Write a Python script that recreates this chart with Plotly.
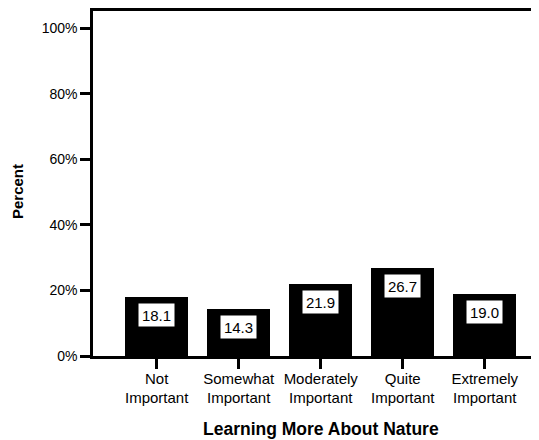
import plotly.graph_objects as go

categories = ["Not<br>Important", "Somewhat<br>Important", "Moderately<br>Important",
              "Quite<br>Important", "Extremely<br>Important"]
values = [18.1, 14.3, 21.9, 26.7, 19.0]
y_ticks = [0, 20, 40, 60, 80, 100]
y_tick_labels = ["0%", "20%", "40%", "60%", "80%", "100%"]
x_title = "Learning More About Nature"
y_title = "Percent"

xpos = list(range(len(categories)))
FONT = "Liberation Sans, Arial, sans-serif"

fig = go.Figure()
fig.add_trace(go.Bar(x=xpos, y=values, width=0.77,
                     marker=dict(color="black", line=dict(width=0)),
                     showlegend=False, hoverinfo="skip"))

for xv, v in zip(xpos, values):
    fig.add_annotation(x=xv, y=v, xref="x", yref="y", text=f"{v:.1f}",
                       showarrow=False, yanchor="top", yshift=-6,
                       bgcolor="white", width=35, height=22, borderpad=0,
                       font=dict(family=FONT, size=15, color="black"))

fig.add_annotation(x=2, y=0, xref="x", yref="paper", text=f"<b>{x_title}</b>",
                   showarrow=False, yanchor="top", yshift=-61,
                   font=dict(family=FONT, size=17.5, color="black"))
fig.add_annotation(x=0, y=50, xref="paper", yref="y", text=f"<b>{y_title}</b>",
                   showarrow=False, textangle=-90, xanchor="center", xshift=-76,
                   font=dict(family=FONT, size=15, color="black"))

fig.update_layout(
    width=531, height=432,
    margin=dict(l=85, r=0, t=3, b=84),
    paper_bgcolor="white", plot_bgcolor="white",
    font=dict(family=FONT, size=14, color="black"),
    bargap=0,
)
fig.update_xaxes(range=[-0.777, 4.662], tickvals=xpos, ticktext=categories,
                 showline=True, linecolor="black", linewidth=2.5, mirror=True,
                 ticks="outside", ticklen=10, tickwidth=2.5, tickcolor="black",
                 showgrid=False, zeroline=False, ticklabelstandoff=-3,
                 tickfont=dict(family=FONT, size=15, color="black"))
fig.update_yaxes(range=[0, 105.2], tickvals=y_ticks, ticktext=y_tick_labels,
                 showline=True, linecolor="black", linewidth=2.5, mirror=False,
                 ticks="outside", ticklen=10, tickwidth=2.5, tickcolor="black",
                 showgrid=False, zeroline=False,
                 tickfont=dict(family=FONT, size=14, color="black"))

fig.write_html("out.html")
